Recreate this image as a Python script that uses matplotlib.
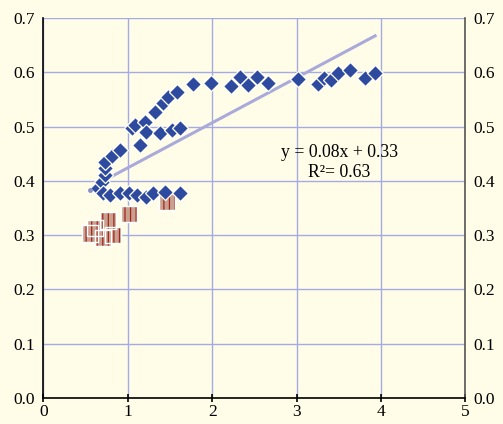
import matplotlib
matplotlib.use("Agg")
import matplotlib.pyplot as plt
import numpy as np

# blue diamonds (main series)
diamond_x = [0.65, 0.69, 0.73, 0.73, 0.73, 0.81, 0.91,
             1.05, 1.09, 1.20, 1.32, 1.42, 1.48, 1.58,
             1.14, 1.22, 1.38, 1.52, 1.62,
             0.71, 0.79, 0.91, 1.01, 1.11, 1.22, 1.30, 1.44, 1.62,
             1.77, 1.99, 2.22, 2.33, 2.43, 2.53, 2.66, 3.02, 3.25,
             3.33, 3.41, 3.49, 3.63, 3.81, 3.93]
diamond_y = [0.386, 0.398, 0.411, 0.423, 0.435, 0.445, 0.457,
             0.497, 0.503, 0.509, 0.527, 0.543, 0.555, 0.564,
             0.466, 0.490, 0.488, 0.494, 0.497,
             0.377, 0.374, 0.377, 0.377, 0.374, 0.371, 0.377, 0.380, 0.378,
             0.578, 0.580, 0.575, 0.592, 0.577, 0.592, 0.581, 0.588, 0.578,
             0.589, 0.586, 0.598, 0.605, 0.589, 0.598]

# brown striped squares
square_x = [0.55, 0.61, 0.71, 0.77, 0.83, 1.01, 1.46]
square_y = [0.303, 0.313, 0.294, 0.327, 0.300, 0.339, 0.362]

# small stray point
dot_x = [0.55]
dot_y = [0.383]

# linear trend drawn on chart
fit_slope = 0.083
fit_intercept = 0.341
fit_range = [0.77, 3.93]
eq_text = "y = 0.08x + 0.33\nR\u00b2= 0.63"

bg = "#FFFDE8"
grid_col = "#A4AAE2"

plt.rcParams["font.family"] = ["Liberation Serif", "DejaVu Serif"]
plt.rcParams["hatch.linewidth"] = 0.9

fig = plt.figure(figsize=(5.03, 4.24), dpi=100, facecolor=bg)
ax = fig.add_axes([0.0861, 0.0613, 0.8393, 0.8962])
ax.set_facecolor(bg)

ax.set_xlim(0, 5)
ax.set_ylim(0, 0.7)
ax.set_xticks(range(0, 6))
ax.set_yticks(np.arange(0, 0.71, 0.1))
ax.set_yticklabels([f"{v:.1f}" for v in np.arange(0, 0.71, 0.1)])
ax.grid(True, color=grid_col, linewidth=1.0)
ax.set_axisbelow(True)

ax.spines["top"].set_visible(False)
ax.spines["left"].set_color("black")
ax.spines["bottom"].set_color("black")
ax.spines["right"].set_color("#555555")
for s in ax.spines.values():
    s.set_linewidth(1.2)

ax.tick_params(axis="x", direction="inout", length=6, width=1.2, labelsize=12.5, pad=1)
ax.tick_params(axis="y", length=0, labelsize=12.5, pad=6,
               labelleft=True, labelright=True)

# trendline
xs = np.array(fit_range)
ax.plot(xs, fit_slope * xs + fit_intercept, color="#A9AADA", linewidth=2.2, zorder=2)

# squares: hatched fill then white outline
ax.scatter(square_x, square_y, marker="s", s=135, facecolor="#C9A190",
           edgecolor="#A3261C", hatch="|||", linewidths=0, zorder=3)
ax.scatter(square_x, square_y, marker="s", s=135, facecolor="none",
           edgecolor="white", linewidths=1.0, zorder=3)

ax.plot(diamond_x, diamond_y, linestyle="none", marker="D", markersize=7.8,
        markerfacecolor="#2E4A9E", markeredgecolor="white", markeredgewidth=0.9,
        zorder=4)
ax.plot(dot_x, dot_y, linestyle="none", marker="o", markersize=2.5,
        color="#8890C8", zorder=4)

ax.text(3.51, 0.434, eq_text, ha="center", va="center", fontsize=12.8,
        linespacing=1.2)

fig.savefig("out.png", dpi=100, facecolor=bg)
